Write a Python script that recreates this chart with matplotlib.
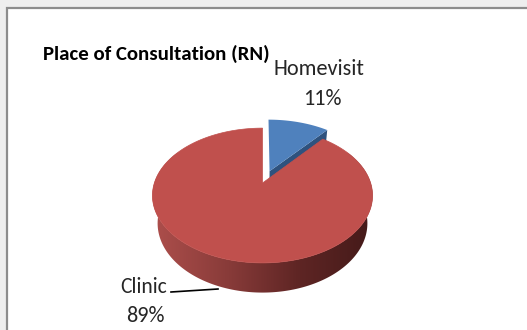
import numpy as np
import matplotlib
matplotlib.use("Agg")
import matplotlib.pyplot as plt
from matplotlib.patches import Polygon, Rectangle
from matplotlib.colors import LinearSegmentedColormap

# pie data (percent)
labels = ["Homevisit", "Clinic"]
shares = [11, 89]
title = "Place of Consultation (RN)"

top_colors = ["#4f81bd", "#c0504d"]
face_colors = ["#2e527e", "#7a2f2d"]
side_cmap = LinearSegmentedColormap.from_list(
    "side", ["#ae4f4c", "#8a3c3a", "#5e2524", "#441a19"])

W, H = 527, 330
FONT = ["Carlito", "DejaVu Sans"]

# simple perspective camera for the tilted disc
cx, cy = 262.5, 183.0
elev = np.radians(37.0)
dist = 4.3
scale = 465.0
thick = 0.34
explode = [0.2, 0.0]


def proj(X, Z, Y=0.0):
    """Project a 3D point of the disc (X right, Z away, Y up) to pixel coords."""
    u, v = np.cos(elev), np.sin(elev)
    depth = dist + Z * u - Y * v
    up = Y * u + Z * v
    return cx + scale * X / depth, cy - scale * up / depth


def rim(theta, off=(0.0, 0.0), Y=0.0):
    X = np.sin(theta) + off[0]
    Z = np.cos(theta) + off[1]
    return proj(X, Z, Y)


fig = plt.figure(figsize=(W / 100, H / 100), dpi=100)
fig.patch.set_facecolor("#eeeeee")
ax = fig.add_axes([0, 0, 1, 1])
ax.set_xlim(0, W)
ax.set_ylim(H, 0)
ax.axis("off")

# chart frame
ax.add_patch(Rectangle((6.5, 7.5), W, H, facecolor="white",
                       edgecolor="#8c8c8c", linewidth=1.6, zorder=0))

# slice angles, clockwise from 12 o'clock
fracs = np.array(shares, dtype=float) / sum(shares)
bounds = np.concatenate([[0.0], np.cumsum(fracs)]) * 2 * np.pi

# first slice (exploded)
t0, t1 = bounds[0], bounds[1]
mid = 0.5 * (t0 + t1)
off = (explode[0] * np.sin(mid), explode[0] * np.cos(mid))
ts = np.linspace(t0, t1, 60)
apex = proj(off[0], off[1])
pts = [apex] + [rim(t, off) for t in ts]
ax.add_patch(Polygon(pts, closed=True, facecolor=top_colors[0],
                     edgecolor="none", zorder=2))
# its cut face on the clockwise side
face = [apex, rim(t1, off), rim(t1, off, -thick * 1.3),
        proj(off[0], off[1], -thick * 1.3)]
ax.add_patch(Polygon(face, closed=True, facecolor=face_colors[0],
                     edgecolor="none", zorder=1.5))

# second slice: shaded side wall (front half), then top
t0, t1 = bounds[1], bounds[2]
side_t = np.linspace(np.radians(60), np.radians(300), 240)
band = [rim(t) for t in side_t] + [rim(t, Y=-thick) for t in side_t[::-1]]
band_patch = Polygon(band, closed=True, facecolor="none", edgecolor="none")
ax.add_patch(band_patch)
xl, xr = rim(np.radians(270))[0] - 3, rim(np.radians(90))[0] + 3
grad = np.linspace(0, 1, 256).reshape(1, -1)
img = ax.imshow(grad, cmap=side_cmap, aspect="auto", interpolation="bilinear",
                extent=(xl, xr, 300, 120), zorder=3)
img.set_clip_path(band_patch)
ax.set_xlim(0, W)
ax.set_ylim(H, 0)

ts = np.linspace(t0, t1, 300)
pts = [proj(0, 0)] + [rim(t) for t in ts]
ax.add_patch(Polygon(pts, closed=True, facecolor=top_colors[1],
                     edgecolor=top_colors[1], linewidth=0.5, zorder=4))

# text
ax.text(43, 60, title, fontsize=15, fontweight="bold", family=FONT,
        ha="left", va="baseline", color="black")
ax.text(319, 75, labels[0], fontsize=16, family=FONT,
        ha="center", va="baseline", color="#262626")
ax.text(322, 105, f"{shares[0]}%", fontsize=16, family=FONT,
        ha="center", va="baseline", color="#262626")
ax.text(144, 293, labels[1], fontsize=15.5, family=FONT,
        ha="center", va="baseline", color="#262626")
ax.text(145, 322, f"{shares[1]}%", fontsize=16, family=FONT,
        ha="center", va="baseline", color="#262626")
ax.plot([171, 218], [292, 289], color="black", linewidth=1.2, zorder=5)

fig.savefig("out.png", dpi=100, facecolor=fig.get_facecolor())
